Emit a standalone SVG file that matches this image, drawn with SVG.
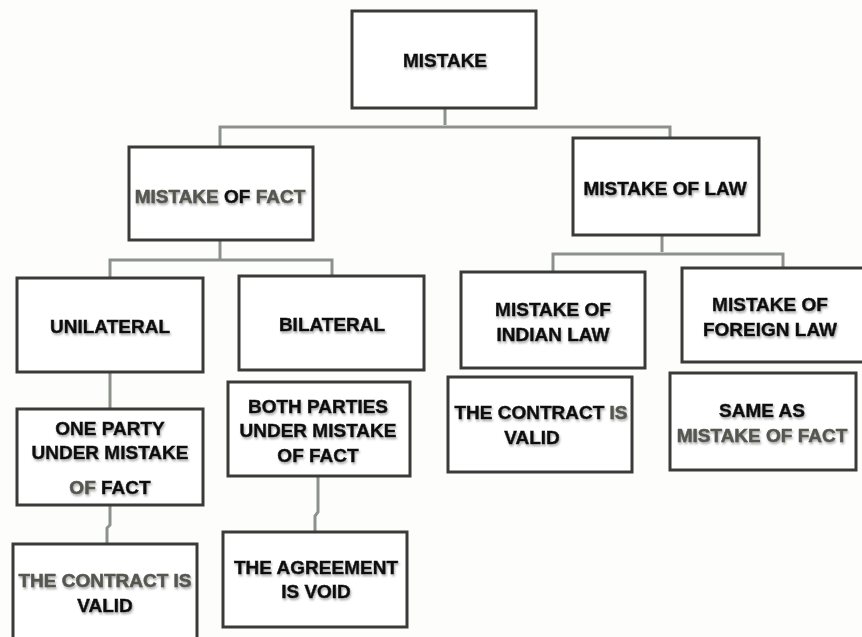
<svg xmlns="http://www.w3.org/2000/svg" width="862" height="637" viewBox="0 0 862 637">
<defs>
<filter id="sh" x="-10%" y="-30%" width="120%" height="160%">
<feDropShadow dx="1" dy="2" stdDeviation="1.2" flood-color="#777" flood-opacity="0.6"/>
</filter>
</defs>
<style>
.box{fill:#fff;stroke:#3a3a38;stroke-width:3}
.t{font-family:"Liberation Sans",Arial,sans-serif;font-weight:bold;font-size:19px;fill:#111;stroke:#111;stroke-width:0.5;text-anchor:middle;filter:url(#sh)}
.g{fill:#55574f;stroke:#55574f}
.c{fill:none;stroke:#8c918a;stroke-width:3}
</style>
<rect width="862" height="637" fill="#fdfdfc"/>
<g id="connectors">
<path class="c" d="M445 108 V125 M220 147 V127 H670 V138"/>
<path class="c" d="M220 240 V259 M110 278 V260 H332 V276"/>
<path class="c" d="M662 235 V252 M553 272 V254 H783 V268"/>
<path class="c" d="M110 372 V409"/>
<path class="c" d="M110 505 V525 L107 528 V545"/>
<path class="c" d="M318 476 V512 L315 516 V532"/>
</g>
<g id="mistake">
<rect class="box" x="352" y="11" width="184" height="97"/>
<text class="t" x="445" y="67">MISTAKE</text>
</g>
<g id="mistake-of-fact">
<rect class="box" x="129" y="147" width="184" height="93"/>
<text class="t" x="220" y="203"><tspan class="g">MISTAKE</tspan> OF <tspan class="g">FACT</tspan></text>
</g>
<g id="mistake-of-law">
<rect class="box" x="573" y="138" width="186" height="97"/>
<text class="t" x="665" y="195">MISTAKE OF LAW</text>
</g>
<g id="unilateral">
<rect class="box" x="17" y="278" width="186" height="94"/>
<text class="t" x="110" y="333">UNILATERAL</text>
</g>
<g id="bilateral">
<rect class="box" x="239" y="276" width="185" height="94"/>
<text class="t" x="332" y="331">BILATERAL</text>
</g>
<g id="indian-law">
<rect class="box" x="461" y="272" width="184" height="96"/>
<text class="t" x="553" y="316">MISTAKE OF</text>
<text class="t" x="553" y="341">INDIAN LAW</text>
</g>
<g id="foreign-law">
<rect class="box" x="682" y="268" width="185" height="94"/>
<text class="t" x="770" y="311">MISTAKE OF</text>
<text class="t" x="770" y="336">FOREIGN LAW</text>
</g>
<g id="one-party">
<rect class="box" x="17" y="409" width="186" height="96"/>
<text class="t" x="110" y="435">ONE PARTY</text>
<text class="t" x="110" y="459">UNDER MISTAKE</text>
<text class="t" x="110" y="494"><tspan class="g">OF</tspan> FACT</text>
</g>
<g id="both-parties">
<rect class="box" x="228" y="382" width="182" height="94"/>
<text class="t" x="318" y="413">BOTH PARTIES</text>
<text class="t" x="318" y="437">UNDER MISTAKE</text>
<text class="t" x="318" y="462">OF FACT</text>
</g>
<g id="contract-valid-left">
<rect class="box" x="13" y="544" width="184" height="100"/>
<text class="t g" x="105" y="587">THE CONTRACT IS</text>
<text class="t" x="105" y="612">VALID</text>
</g>
<g id="agreement-void">
<rect class="box" x="223" y="532" width="184" height="95"/>
<text class="t" x="316" y="574">THE AGREEMENT</text>
<text class="t" x="316" y="598">IS VOID</text>
</g>
<g id="contract-valid-right">
<rect class="box" x="448" y="377" width="184" height="95"/>
<text class="t" x="541" y="419">THE CONTRACT <tspan class="g">IS</tspan></text>
<text class="t" x="532" y="444">VALID</text>
</g>
<g id="same-as">
<rect class="box" x="670" y="373" width="186" height="97"/>
<text class="t" x="762" y="417">SAME AS</text>
<text class="t g" x="762" y="442">MISTAKE OF FACT</text>
</g>
</svg>
